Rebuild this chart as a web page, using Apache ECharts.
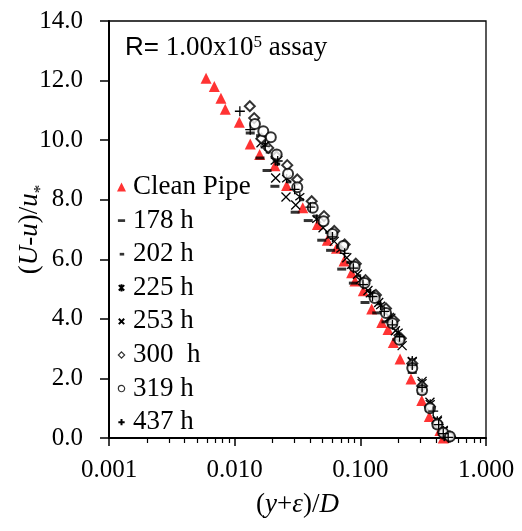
<!DOCTYPE html>
<html>
<head>
<meta charset="utf-8">
<script src="https://cdn.jsdelivr.net/npm/echarts@6/dist/echarts.min.js"></script>
<style>
html,body{margin:0;padding:0;background:#fff;}
#chart{width:522px;height:531px;}
</style>
</head>
<body>
<div id="chart"></div>
<script>
// ---- data: [(y+eps)/D, (U-u)/u*] ----
var cleanPipe = [[0.00592,12.08],[0.00689,11.80],[0.00778,11.41],[0.00842,11.04],[0.01089,10.60],[0.0133,9.87],[0.0158,9.52],[0.0209,9.14],[0.0259,8.48],[0.0348,7.73],[0.0455,7.17],[0.0546,6.64],[0.0646,6.37],[0.0741,5.94],[0.0853,5.55],[0.0907,5.27],[0.1056,4.94],[0.1231,4.33],[0.148,3.88],[0.166,3.64],[0.183,3.21],[0.207,2.65],[0.253,1.98],[0.308,1.26],[0.354,0.72],[0.43,0.25],[0.457,0.0]];
var h178 = [[0.0133,10.24],[0.0159,9.40],[0.0181,8.98],[0.0209,8.45],[0.0303,7.58],[0.0385,7.3],[0.0493,6.64],[0.058,6.3],[0.0711,5.67],[0.088,5.2],[0.109,4.55],[0.135,4.2],[0.16,3.9],[0.195,3.3],[0.259,2.2],[0.308,1.5],[0.358,0.92],[0.41,0.36],[0.457,0.12],[0.48,0.0]];
var h202 = [[0.0155,10.15],[0.0185,9.6],[0.022,9.2],[0.027,8.6],[0.034,8.0],[0.044,7.45],[0.055,6.9],[0.067,6.4],[0.081,5.9],[0.097,5.45],[0.117,4.95],[0.142,4.5],[0.172,4.05],[0.2,3.45],[0.259,2.45],[0.31,1.7],[0.358,1.05],[0.41,0.5],[0.457,0.2],[0.516,0.03]];
var h225 = [[0.0175,9.85],[0.021,9.3],[0.0259,8.71],[0.033,8.1],[0.045,7.35],[0.058,6.8],[0.07,6.35],[0.085,5.8],[0.1,5.3],[0.12,4.85],[0.145,4.45],[0.175,4.05],[0.2,3.55],[0.259,2.6],[0.31,1.85],[0.36,1.15],[0.41,0.58],[0.457,0.25],[0.5,0.06]];
var h253 = [[0.0162,9.91],[0.0212,8.73],[0.0256,8.09],[0.0306,7.82],[0.0505,7.06],[0.062,6.6],[0.078,6.05],[0.095,5.5],[0.115,4.95],[0.14,4.55],[0.17,4.05],[0.19,3.6],[0.215,3.1],[0.259,2.55],[0.31,1.9],[0.358,1.2],[0.41,0.6],[0.457,0.25],[0.5,0.05]];
var h300 = [[0.0132,11.14],[0.0143,10.74],[0.0163,10.05],[0.0185,9.74],[0.0215,9.45],[0.0262,9.16],[0.0315,8.68],[0.041,7.95],[0.0514,7.45],[0.062,6.95],[0.075,6.5],[0.092,5.85],[0.11,5.3],[0.133,4.8],[0.16,4.35],[0.185,3.95],[0.21,3.35],[0.259,2.5],[0.31,1.75],[0.358,1.05],[0.41,0.5],[0.457,0.2],[0.516,0.05]];
var h319 = [[0.0145,10.54],[0.0169,10.30],[0.0194,10.10],[0.0216,9.52],[0.0266,8.87],[0.0315,8.42],[0.0418,7.73],[0.051,7.28],[0.06,6.85],[0.073,6.45],[0.09,5.75],[0.108,5.2],[0.13,4.7],[0.16,4.2],[0.18,3.85],[0.205,3.3],[0.259,2.35],[0.31,1.6],[0.358,1.0],[0.41,0.45],[0.457,0.18],[0.516,0.05]];
var h437 = [[0.011,10.97],[0.0133,10.35],[0.0175,9.8],[0.022,9.3],[0.03,8.35],[0.04,7.75],[0.06,6.75],[0.075,6.2],[0.088,5.7],[0.105,5.15],[0.125,4.75],[0.155,4.25],[0.18,3.8],[0.205,3.4],[0.259,2.45],[0.31,1.7],[0.38,0.9],[0.42,0.45],[0.457,0.15],[0.5,0.02]];
var seriesNames = ['Clean Pipe','178 h','202 h','225 h','253 h','300  h','319 h','437 h'];
var xMinorTicks = [0.002,0.003,0.004,0.005,0.006,0.007,0.008,0.009,0.02,0.03,0.04,0.05,0.06,0.07,0.08,0.09,0.2,0.3,0.4,0.5,0.6,0.7,0.8,0.9];

var SERIF = 'Liberation Serif';
var SANS = 'Liberation Sans';
var BLK = '#000';

var symCross = 'path://M0,0L10,10M10,0L0,10';
var symPlus = 'path://M5,0L5,10M0,5L10,5';
var symStar = 'path://M0,1L10,9M10,1L0,9M5,0L5,10';

var chart = echarts.init(document.getElementById('chart'), null, {renderer:'canvas'});

function sc(name, data, symbol, size, extra) {
  var s = {
    name: name, type: 'scatter', data: data, symbol: symbol, symbolSize: size,
    itemStyle: {color: BLK, borderColor: BLK, borderWidth: 1.3, opacity: 1},
    emphasis: {disabled: true}, z: 3
  };
  if (extra) for (var k in extra) s[k] = extra[k];
  return s;
}

var option = {
  animation: false,
  backgroundColor: '#fff',
  grid: {left: 109, right: 36, top: 21, bottom: 93, show: true, borderColor: BLK, borderWidth: 1.3, containLabel: false, outerBoundsMode: 'none'},
  legend: {
    orient: 'vertical', left: 116, top: 173, padding: 0,
    itemWidth: 9, itemHeight: 9, itemGap: 5.6,
    textStyle: {fontFamily: SERIF, fontSize: 27, color: BLK, lineHeight: 28, padding: [0,0,0,2]},
    data: [
      {name: seriesNames[0], icon: 'triangle'},
      {name: seriesNames[1], icon: 'path://M0,0M10,10M1,3.5h8v3h-8z'},
      {name: seriesNames[2], icon: 'path://M0,0M10,10M3,3.5h5v3h-5z'},
      {name: seriesNames[3], icon: 'path://M0,0M10,10M2,2L8,8M8,2L2,8M5,1L5,9'},
      {name: seriesNames[4], icon: 'path://M0,0M10,10M2,2L8,8M8,2L2,8'},
      {name: seriesNames[5], icon: 'path://M0,0M10,10M5,1.5L8.5,5L5,8.5L1.5,5Z', itemStyle: {color: '#fff', borderColor: BLK, borderWidth: 1.2}},
      {name: seriesNames[6], icon: 'path://M0,0M10,10M5,1.5A3.5,3.5,0,1,1,4.99,1.5Z', itemStyle: {color: '#fff', borderColor: BLK, borderWidth: 1.2}},
      {name: seriesNames[7], icon: 'path://M0,0M10,10M5,1.5L5,8.5M1.5,5L8.5,5'}
    ]
  },
  xAxis: [{
    type: 'log', logBase: 10, min: 0.001, max: 1,
    axisLine: {show: true, onZero: false, lineStyle: {color: BLK, width: 2}},
    axisTick: {show: true, inside: false, length: 8, lineStyle: {color: BLK, width: 1.5}},
    axisLabel: {show: true, margin: 20, fontFamily: SERIF, fontSize: 25, color: BLK,
      formatter: function (v) { return Number(v).toFixed(3); }},
    splitLine: {show: false}, minorTick: {show: false},
    name: '{p|(}{i|y}{p|+}{i|ε}{p|)/}{i|D}',
    nameLocation: 'middle', nameGap: 53, nameMoveOverlap: false,
    nameTextStyle: {fontFamily: SERIF, fontSize: 27, color: BLK,
      rich: {p: {fontFamily: SERIF, fontSize: 27, color: BLK}, i: {fontFamily: SERIF, fontSize: 27, fontStyle: 'italic', color: BLK}}}
  }, {
    type: 'log', logBase: 10, min: 0.001, max: 1, position: 'bottom', gridIndex: 0,
    axisLine: {show: false, onZero: false},
    axisTick: {show: true, inside: false, length: 5, customValues: xMinorTicks, lineStyle: {color: BLK, width: 1.2}},
    axisLabel: {show: false}, splitLine: {show: false}
  }],
  yAxis: {
    type: 'value', min: 0, max: 14, interval: 2,
    axisLine: {show: true, onZero: false, lineStyle: {color: BLK, width: 2}},
    axisTick: {show: true, inside: false, length: 9, lineStyle: {color: BLK, width: 1.5}},
    axisLabel: {show: true, margin: 26, fontFamily: SERIF, fontSize: 25, color: BLK,
      formatter: function (v) { return Number(v).toFixed(1); }},
    splitLine: {show: false},
    name: '{p|(}{i|U}{p|-}{i|u}{p|)/}{i|u}{s|*}',
    nameLocation: 'middle', nameGap: 66, nameRotate: 90, nameMoveOverlap: false,
    nameTextStyle: {fontFamily: SERIF, fontSize: 27, color: BLK,
      rich: {p: {fontFamily: SERIF, fontSize: 27, color: BLK}, i: {fontFamily: SERIF, fontSize: 27, fontStyle: 'italic', color: BLK},
             s: {fontFamily: SERIF, fontSize: 17, color: BLK, verticalAlign: 'bottom', padding: [0,0,-6,0]}}}
  },
  graphic: [{
    type: 'text', left: 125, top: 34, z: 10,
    style: {
      text: '{a|R=}{b| 1.00x10}{c|5}{b| assay}',
      rich: {
        a: {fontFamily: SANS, fontSize: 26, fill: BLK, color: BLK},
        b: {fontFamily: SERIF, fontSize: 27, fill: BLK, color: BLK},
        c: {fontFamily: SERIF, fontSize: 17, fill: BLK, color: BLK, verticalAlign: 'top'}
      }
    }
  }],
  series: [
    sc(seriesNames[0], cleanPipe, 'triangle', 11, {itemStyle: {color: '#ff0000', borderWidth: 0}, z: 2}),
    sc(seriesNames[1], h178, 'rect', [9, 3], {itemStyle: {color: BLK, borderWidth: 0}}),
    sc(seriesNames[2], h202, 'rect', [5, 3], {itemStyle: {color: BLK, borderWidth: 0}}),
    sc(seriesNames[3], h225, symStar, 9),
    sc(seriesNames[4], h253, symCross, 9),
    sc(seriesNames[5], h300, 'emptyDiamond', 10, {itemStyle: {color: BLK, borderColor: BLK, borderWidth: 1.2}}),
    sc(seriesNames[6], h319, 'emptyCircle', 10, {itemStyle: {color: BLK, borderColor: BLK, borderWidth: 1.2}}),
    sc(seriesNames[7], h437, symPlus, 10)
  ]
};
chart.setOption(option);
</script>
</body>
</html>
